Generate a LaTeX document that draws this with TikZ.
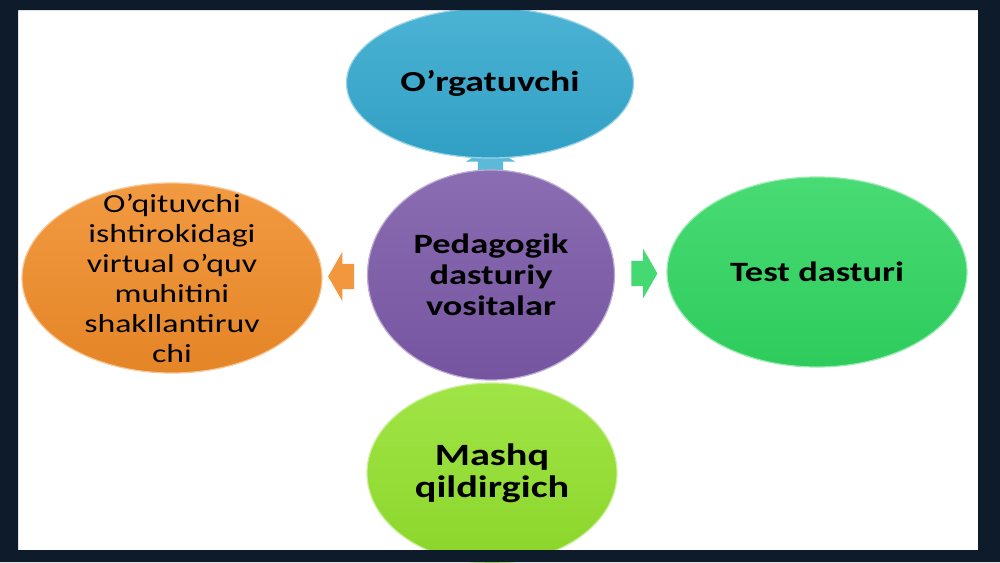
\documentclass[tikz,border=0pt]{standalone}
\usepackage{fontspec}
\setmainfont{Carlito}[FakeStretch=1.3]
\usetikzlibrary{shapes.geometric,shapes.arrows,calc,backgrounds}

% 颜色
\definecolor{kuang}{HTML}{0E1B2B}
\definecolor{lan}{HTML}{33A8CE}
\definecolor{zi}{HTML}{7B59A8}
\definecolor{cheng}{HTML}{F08C28}
\definecolor{lv}{HTML}{30D661}
\definecolor{qinglv}{HTML}{93E12D}

\begin{document}
\begin{tikzpicture}[x=1pt,y=-1pt,
  % 椭圆的style
  tuoyuan/.style={ellipse, inner sep=0pt, line width=1.2pt,
    top color=#1!88!white, bottom color=#1!95!black, draw=#1!50!white},
  % 箭头的style
  jiantou/.style={single arrow, draw=none, inner xsep=0pt, inner ysep=12.5pt,
    minimum height=26pt, single arrow head extend=12pt, single arrow tip angle=120},
  ziti/.style={align=center, text=black, font=\bfseries\fontsize{#1}{31}\selectfont}]

  \useasboundingbox (0,0) rectangle (1000,562);

  % 白色底
  \begin{pgfonlayer}{background}
    \fill[white] (0,0) rectangle (1000,562);
  \end{pgfonlayer}

  % 画中间和四周的椭圆
  \node[tuoyuan=zi, minimum width=247pt, minimum height=210pt] (pedagog) at (491,275) {};
  \node[tuoyuan=lan, minimum width=287pt, minimum height=150pt] (orgat) at (490,83) {};
  \node[tuoyuan=cheng, minimum width=300pt, minimum height=190pt] (oqit) at (172,278) {};
  \node[tuoyuan=lv, minimum width=300pt, minimum height=190pt] (test) at (817,272) {};
  \node[tuoyuan=qinglv, minimum width=250pt, minimum height=180pt] (mashq) at (492,473) {};

  % 文字
  \node[ziti=28] (pedagog-t) at (pedagog) {Pedagogik\\dasturiy\\vositalar};
  \node[ziti=29] (orgat-t) at (orgat) {O’rgatuvchi};
  \node[align=center, font=\fontsize{26}{30}\selectfont] (oqit-t) at (oqit)
    {O’qituvchi\\ishtirokidagi\\virtual o’quv\\muhitini\\shakllantiruv\\chi};
  \node[ziti=28] (test-t) at (test) {Test dasturi};
  \node[align=center, font=\bfseries\fontsize{31}{32}\selectfont] (mashq-t) at (mashq) {Mashq\\qildirgich};

  % 箭头
  \node[jiantou, fill=cheng!90!white, shape border rotate=180] (jt-zuo)
    at ($(pedagog.west)!0.5!(oqit.east)$) {};
  \node[jiantou, fill=lv!90!white] (jt-you)
    at ($(pedagog.east)!0.5!(test.west)$) {};
  \begin{pgfonlayer}{background}
    \node[jiantou, inner xsep=12.5pt, inner ysep=0pt, fill=lan!80!white, shape border rotate=90] (jt-shang)
      at ($(pedagog.north)!0.5!(orgat.south)$) {};
  \end{pgfonlayer}

  % 边框
  \fill[kuang, even odd rule] (0,0) rectangle (1000,562) (18,10) rectangle (978,550);

\end{tikzpicture}
\end{document}
